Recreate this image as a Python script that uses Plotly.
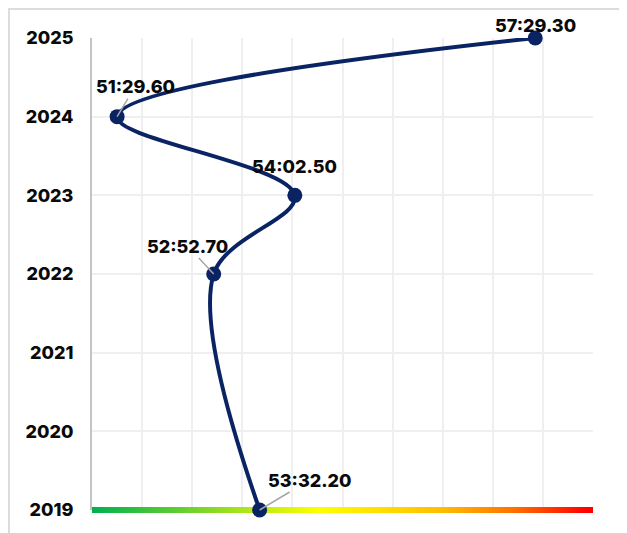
import numpy as np
import plotly.graph_objects as go

# ---- data ----
years = [2019, 2022, 2023, 2024, 2025]
times = ["53:32.20", "52:52.70", "54:02.50", "51:29.60", "57:29.30"]
year_ticks = [2019, 2020, 2021, 2022, 2023, 2024, 2025]

def to_sec(t):
    m, s = t.split(":")
    return int(m) * 60 + float(s)

secs = [to_sec(t) for t in times]

# ---- style ----
NAVY = "#0a2463"
X0, X1 = 3068.0, 3499.0
W, H = 619, 525
L, T, PW, PH = 84, 30, 501, 472
# label offsets (px) and whether a leader line is drawn
offsets = [(50, -30, True), (-26, -28, True), (0, -29, False), (18, -30, True), (0, -13, False)]

fig = go.Figure()

# gradient baseline bar (decoration)
n = 300
pad = (X1 - X0) * 3 / PW
gx = np.linspace(X0 + pad, X1 - pad, n)
fig.add_trace(go.Scatter(
    x=gx, y=[year_ticks[0]] * n, mode="markers",
    marker=dict(symbol="square", size=6, line=dict(width=0),
                color=np.linspace(0, 1, n),
                colorscale=[[0, "#00b04f"], [0.455, "#ffff00"], [0.70, "#ffc000"],
                            [0.85, "#ff7000"], [1, "#ff0000"]]),
    hoverinfo="skip", cliponaxis=False, showlegend=False))

fig.add_trace(go.Scatter(
    x=secs, y=years, mode="lines+markers",
    line=dict(color=NAVY, width=4, shape="spline"),
    marker=dict(color=NAVY, size=15),
    cliponaxis=False, showlegend=False, hoverinfo="skip"))

for s, y, t, (ax, ay, arrow) in zip(secs, years, times, offsets):
    fig.add_annotation(
        x=s, y=y, text=t, showarrow=True, ax=ax, ay=ay,
        arrowhead=0, arrowwidth=1.5, standoff=0,
        arrowcolor="#a6a6a6" if arrow else "rgba(0,0,0,0)",
        font=dict(family="Inter", size=18, color="#0a0a0a", weight=800))

# card frame
fig.add_shape(type="rect", xref="paper", yref="paper",
              x0=(1 - L) / PW, x1=(W - 1 - L) / PW, y0=-60 / PH, y1=(T + PH - 1) / PH,
              fillcolor="white", line=dict(color="#dcdcdc", width=2), layer="below")

fig.update_layout(
    width=W, height=H,
    margin=dict(l=L, r=W - L - PW, t=T, b=H - T - PH),
    paper_bgcolor="white", plot_bgcolor="white",
    xaxis=dict(range=[X0, X1], tick0=X0, dtick=(X1 - X0) / 10,
               showticklabels=False, showgrid=True, gridcolor="#efefef", gridwidth=2,
               zeroline=False, showline=False, ticks=""),
    yaxis=dict(range=[2019, 2025], tickvals=year_ticks, ticktext=[str(v) for v in year_ticks],
               showgrid=True, gridcolor="#efefef", gridwidth=2, zeroline=False,
               showline=True, linecolor="#c4c4c4", linewidth=2, ticks="",
               ticklabelstandoff=13,
               tickfont=dict(family="Inter", size=18, color="#0a0a0a", weight=800)),
)

fig.write_html("out.html")
